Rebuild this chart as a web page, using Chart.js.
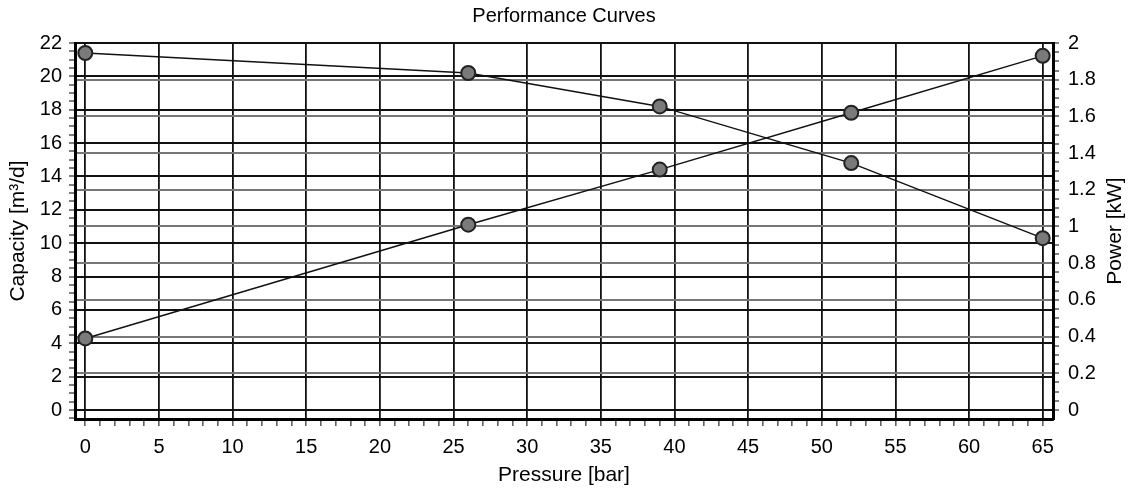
<!DOCTYPE html>
<html>
<head>
<meta charset="utf-8">
<title>Performance Curves</title>
<script src="https://cdn.jsdelivr.net/npm/chart.js@4.4.1/dist/chart.umd.min.js"></script>
<style>
  html, body { margin: 0; padding: 0; background: #fff; }
  #wrap { width: 1128px; height: 491px; }
</style>
</head>
<body>
<div id="wrap"><canvas id="chart"></canvas></div>
<script>
// values
const pressure = [0, 26, 39, 52, 65];
const capacity = [21.4, 20.2, 18.2, 14.8, 10.3];
const power = [0.39, 1.01, 1.31, 1.62, 1.93];

const FONT = "'Liberation Sans', Arial, sans-serif";

const isMult = (v, step) => Math.abs(Math.round(v / step) * step - v) < 1e-6;

// right axis title reads bottom-to-top like the left one
const rightTitle = {
    id: 'rightTitle',
    afterDraw(chart) {
        const { ctx, chartArea } = chart;
        ctx.save();
        ctx.translate(1115, (chartArea.top + chartArea.bottom) / 2);
        ctx.rotate(-Math.PI / 2);
        ctx.font = '21px ' + FONT;
        ctx.fillStyle = '#000';
        ctx.textAlign = 'center';
        ctx.textBaseline = 'middle';
        ctx.fillText('Power [kW]', 0, 0);
        ctx.restore();
    }
};

const ctx = document.getElementById('chart').getContext('2d');

new Chart(ctx, {
    type: 'scatter',
    data: {
        datasets: [{
            label: 'Capacity',
            data: pressure.map((p, i) => ({ x: p, y: capacity[i] })),
            yAxisID: 'y',
            showLine: true,
            borderColor: '#111',
            borderWidth: 1.5,
            pointRadius: 7,
            pointBackgroundColor: '#7a7a7a',
            pointBorderColor: '#222',
            pointBorderWidth: 2
        }, {
            label: 'Power',
            data: pressure.map((p, i) => ({ x: p, y: power[i] })),
            yAxisID: 'y1',
            showLine: true,
            borderColor: '#111',
            borderWidth: 1.5,
            pointRadius: 7,
            pointBackgroundColor: '#7a7a7a',
            pointBorderColor: '#222',
            pointBorderWidth: 2
        }]
    },
    options: {
        responsive: true,
        maintainAspectRatio: false,
        animation: false,
        layout: { padding: 0 },
        plugins: {
            legend: { display: false },
            tooltip: { enabled: false },
            title: {
                display: true,
                text: 'Performance Curves',
                color: '#000',
                font: { family: FONT, size: 20, weight: 'normal' },
                padding: { top: 4, bottom: 15 }
            }
        },
        scales: {
            x: {
                type: 'linear',
                min: -0.7,
                max: 65.7,
                afterFit(scale) { scale.height = 72; },
                ticks: {
                    stepSize: 1,
                    includeBounds: false,
                    autoSkip: false,
                    maxRotation: 0,
                    padding: 9,
                    color: '#000',
                    font: { family: FONT, size: 20 },
                    callback: v => isMult(v, 5) ? String(Math.round(v)) : ''
                },
                grid: {
                    color: c => isMult(c.tick.value, 5) ? '#111' : 'rgba(0,0,0,0)',
                    lineWidth: 1.8,
                    tickColor: '#000',
                    tickWidth: 1,
                    tickLength: 7
                },
                border: { color: '#000', width: 3 },
                title: {
                    display: true,
                    text: 'Pressure [bar]',
                    color: '#000',
                    font: { family: FONT, size: 21 },
                    padding: { top: 0, bottom: 3 }
                }
            },
            y: {
                type: 'linear',
                position: 'left',
                min: -0.54,
                max: 22,
                afterFit(scale) { scale.width = 75; },
                ticks: {
                    stepSize: 0.5,
                    includeBounds: false,
                    autoSkip: false,
                    padding: 7,
                    color: '#000',
                    font: { family: FONT, size: 20 },
                    callback: v => isMult(v, 2) ? String(Math.round(v)) : ''
                },
                grid: {
                    color: c => isMult(c.tick.value, 2) ? '#111' : 'rgba(0,0,0,0)',
                    lineWidth: 2,
                    tickColor: '#000',
                    tickWidth: 1,
                    tickLength: 6
                },
                border: { color: '#000', width: 3 },
                title: {
                    display: true,
                    text: 'Capacity [m³/d]',
                    color: '#000',
                    font: { family: FONT, size: 21 },
                    padding: { top: 6, bottom: 0 }
                }
            },
            y1: {
                type: 'linear',
                position: 'right',
                min: -0.54 / 11,
                max: 2,
                afterFit(scale) { scale.width = 75; },
                ticks: {
                    stepSize: 0.05,
                    includeBounds: false,
                    autoSkip: false,
                    padding: 9,
                    color: '#000',
                    font: { family: FONT, size: 20 },
                    callback: v => isMult(v, 0.2) ? String(Number(v.toFixed(1))) : ''
                },
                grid: {
                    // 0 and 2 sit on the left axis lines, keep those black
                    color: c => {
                        const v = c.tick.value;
                        if (isMult(v, 2)) return 'rgba(0,0,0,0)';
                        return isMult(v, 0.2) ? '#777' : 'rgba(0,0,0,0)';
                    },
                    lineWidth: 2,
                    tickColor: '#000',
                    tickWidth: 1,
                    tickLength: 6
                },
                border: { color: '#000', width: 3 }
            }
        }
    },
    plugins: [rightTitle]
});
</script>
</body>
</html>
